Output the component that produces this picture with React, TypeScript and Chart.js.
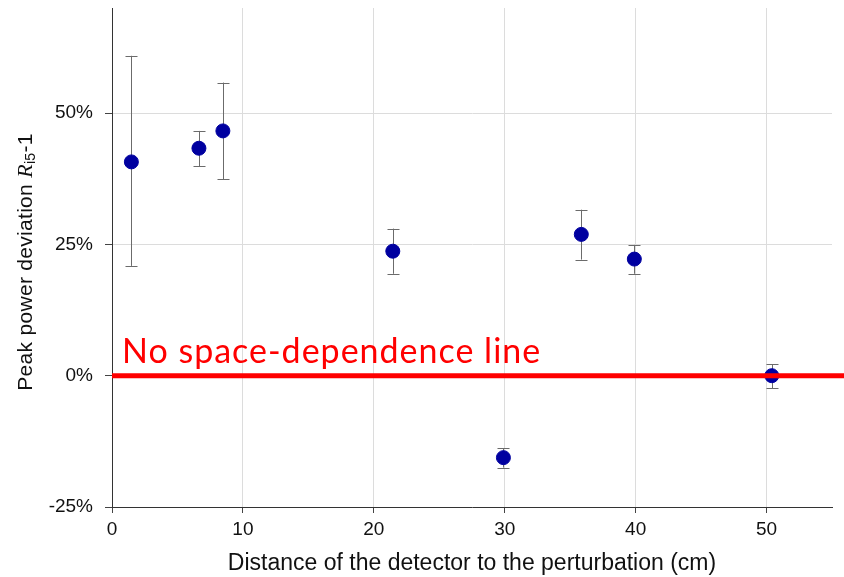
import React, { useEffect, useRef } from "react";
import { Chart, registerables } from "chart.js";

Chart.register(...registerables);

const distances = [1.48, 6.64, 8.47, 21.45, 29.9, 35.85, 39.9, 50.4];
const deviations = [40.7, 43.3, 46.6, 23.7, -15.6, 26.9, 22.2, 0];
const upperBounds = [60.9, 46.6, 55.8, 28.0, -13.8, 31.6, 24.9, 2.2];
const lowerBounds = [20.9, 39.9, 37.4, 19.4, -17.5, 22.1, 19.4, -2.4];
const xTickValues = [0, 10, 20, 30, 40, 50];
const yTickValues = [-25, 0, 25, 50];
const referenceLine = [0];
const referenceLabel = "No space-dependence line";
const xTitle = "Distance of the detector to the perturbation (cm)";

const errorBarPlugin = {
  id: "errorBars",
  beforeDatasetsDraw(chart: any) {
    const ctx = chart.ctx;
    const xs = chart.scales.x;
    const ys = chart.scales.y;
    ctx.save();
    ctx.strokeStyle = "#6b6b6b";
    ctx.lineWidth = 1;
    distances.forEach((d, i) => {
      const px = Math.round(xs.getPixelForValue(d)) + 0.5;
      const top = ys.getPixelForValue(upperBounds[i]);
      const bot = ys.getPixelForValue(lowerBounds[i]);
      ctx.beginPath();
      ctx.moveTo(px, top);
      ctx.lineTo(px, bot);
      ctx.moveTo(px - 6, Math.round(top) + 0.5);
      ctx.lineTo(px + 6, Math.round(top) + 0.5);
      ctx.moveTo(px - 6, Math.round(bot) + 0.5);
      ctx.lineTo(px + 6, Math.round(bot) + 0.5);
      ctx.stroke();
    });
    ctx.restore();
  },
};

const overlayPlugin = {
  id: "overlay",
  afterDatasetsDraw(chart: any) {
    const ctx = chart.ctx;
    const ys = chart.scales.y;
    const area = chart.chartArea;
    ctx.save();
    referenceLine.forEach((v) => {
      const py = ys.getPixelForValue(v);
      ctx.strokeStyle = "#ff0000";
      ctx.lineWidth = 5;
      ctx.beginPath();
      ctx.moveTo(area.left, py);
      ctx.lineTo(chart.width, py);
      ctx.stroke();
      ctx.fillStyle = "#ff0000";
      ctx.font = "34px Lato, 'Open Sans', sans-serif";
      (ctx as any).letterSpacing = "1px";
      ctx.textBaseline = "alphabetic";
      ctx.textAlign = "left";
      ctx.fillText(referenceLabel, area.left + 10, py - 13);
      (ctx as any).letterSpacing = "0px";
    });
    // y axis title with italic R and subscript
    const cx = 26;
    const cy = 262;
    ctx.translate(cx, cy);
    ctx.rotate(-Math.PI / 2);
    ctx.fillStyle = "#111";
    ctx.textBaseline = "middle";
    const f1 = "21px 'Liberation Sans', Arial, sans-serif";
    const f2 = "italic 22px 'Liberation Serif', 'Times New Roman', serif";
    const f3 = "14px 'Liberation Sans', Arial, sans-serif";
    const parts: [string, string, number][] = [
      ["Peak power deviation ", f1, 0],
      ["R", f2, 0],
      ["i5", f3, 5],
      ["-1", f1, 0],
    ];
    (ctx as any).letterSpacing = "0.3px";
    let total = 0;
    parts.forEach(([t, f]) => {
      ctx.font = f;
      total += ctx.measureText(t).width;
    });
    let x = -total / 2;
    parts.forEach(([t, f, dy]) => {
      ctx.font = f;
      ctx.textAlign = "left";
      ctx.fillText(t, x, dy);
      x += ctx.measureText(t).width;
    });
    ctx.restore();
  },
};

function App() {
  const ref = useRef<HTMLCanvasElement | null>(null);
  useEffect(() => {
    if (!ref.current) return;
    const tickFont = { family: "'Liberation Sans', Arial, sans-serif", size: 19 };
    const chart = new Chart(ref.current, {
      type: "scatter",
      data: {
        datasets: [
          {
            data: distances.map((d, i) => ({ x: d, y: deviations[i] })),
            backgroundColor: "#0000a0",
            borderColor: "#0000a0",
            pointRadius: 7,
            pointHoverRadius: 7,
          },
        ],
      },
      options: {
        animation: false,
        responsive: false,
        maintainAspectRatio: false,
        layout: { padding: { left: 0, right: 12, top: 8, bottom: 0 } },
        plugins: { legend: { display: false }, tooltip: { enabled: false } },
        scales: {
          x: {
            type: "linear",
            min: 0,
            max: 55,
            afterBuildTicks: (s: any) => {
              s.ticks = xTickValues.map((v) => ({ value: v }));
            },
            afterFit: (s: any) => {
              s.height = 70;
              s.paddingLeft = 0;
              s.paddingRight = 0;
            },
            grid: { color: "#dcdcdc", tickColor: "#444", tickLength: 6, drawOnChartArea: true },
            border: { color: "#333", width: 1 },
            ticks: { color: "#111", font: tickFont, padding: 5, maxRotation: 0 },
            title: {
              display: true,
              text: xTitle,
              color: "#111",
              font: { family: "'Liberation Sans', Arial, sans-serif", size: 23 },
              padding: { top: 1, bottom: 0 },
            },
          },
          y: {
            type: "linear",
            min: -25,
            max: 70,
            afterBuildTicks: (s: any) => {
              s.ticks = yTickValues.map((v) => ({ value: v }));
            },
            afterFit: (s: any) => {
              s.width = 112;
              s.paddingTop = 0;
              s.paddingBottom = 0;
            },
            grid: { color: "#dcdcdc", tickColor: "#444", tickLength: 7 },
            border: { color: "#333", width: 1 },
            ticks: {
              color: "#111",
              font: tickFont,
              padding: 12,
              callback: (v: any) => `${v}%`,
            },
          },
        },
      },
      plugins: [errorBarPlugin, overlayPlugin],
    });
    return () => chart.destroy();
  }, []);
  return (
    <div style={{ position: "absolute", left: 0, top: 0, width: 844, height: 577, background: "#fff" }}>
      <canvas ref={ref} width={844} height={577} style={{ width: 844, height: 577 }} />
    </div>
  );
}

export default App;
